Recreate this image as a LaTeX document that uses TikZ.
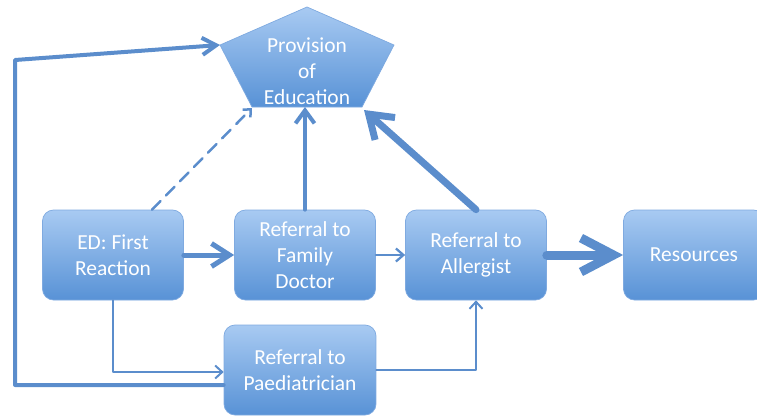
\documentclass[tikz,border=0pt]{standalone}
\usepackage{fontspec}
\setmainfont{Carlito}
\usetikzlibrary{arrows.meta}
\definecolor{boxtop}{HTML}{A8CAF2}
\definecolor{boxbot}{HTML}{5892D6}
\definecolor{boxline}{HTML}{7FAAE0}
\definecolor{linkcol}{HTML}{5B8DCC}
\tikzset{
  boxtext/.style={text=white, align=center, font=\fontsize{12.2}{14.8}\selectfont},
  stepbox/.style={boxtext, rectangle, rounded corners=2.2mm, top color=boxtop, bottom color=boxbot,
    draw=boxline, line width=0.4pt, minimum width=28.2mm, minimum height=18mm},
  link/.style={draw=linkcol, line cap=round, line join=round},
}
\begin{document}
\begin{tikzpicture}[x=0.2mm, y=-0.2mm]
  \useasboundingbox (0,0) rectangle (757,416);
  % pentagon
  \coordinate (p-top) at (307,7);
  \coordinate (p-r)   at (394,45);
  \coordinate (p-br)  at (362,107);
  \coordinate (p-bl)  at (252,107);
  \coordinate (p-l)   at (220,45);
  \shade[top color=boxtop, bottom color=boxbot, draw=boxline]
    (p-top) -- (p-r) -- (p-br) -- (p-bl) -- (p-l) -- cycle;
  \node[boxtext] (edu) at (307,71) {Provision\\of\\Education};

  % boxes
  \node[stepbox] (ed)  at (113,255) {ED: First\\Reaction};
  \node[stepbox] (fd)  at (305,255) {Referral to\\Family\\Doctor};
  \node[stepbox] (al)  at (476,255) {Referral to\\Allergist};
  \node[stepbox] (res) at (694,255) {Resources};
  \node[stepbox, minimum width=30.4mm] (pd)  at (300,370) {Referral to\\Paediatrician};

  % connectors
  \draw[link, line width=1mm, -{Straight Barb[length=3.6mm, width=4.6mm]}] (ed) -- (fd);
  \draw[link, line width=0.45mm, -{Straight Barb[length=1.5mm, width=2.6mm]}] (fd) -- (al);
  \draw[link, line width=1.8mm, -{Straight Barb[length=6.5mm, width=6.8mm]}] (al) -- (res);
  \draw[link, line width=0.8mm, -{Straight Barb[length=2.6mm, width=3.8mm]}] (fd.north) -- (fd.north |- p-bl);
  \draw[link, line width=1.4mm, -{Straight Barb[length=4.4mm, width=6mm]}] (al.north) -- ([shift={(2,3)}]p-br);
  \draw[link, line width=0.5mm, dashed, dash pattern=on 2.4mm off 1.6mm, -{Straight Barb[length=1.2mm, width=2.2mm]}]
    ([xshift=7.8mm]ed.north) -- ([shift={(0,1)}]p-bl);
  \draw[link, line width=0.4mm, -{Straight Barb[length=1.4mm, width=2.6mm]}]
    (ed.south) |- ([yshift=-0.4mm]pd.west);
  \draw[link, line width=0.4mm, -{Straight Barb[length=1.4mm, width=2.6mm]}]
    (pd.east) -| (al.south);
  \draw[link, line width=0.8mm, -{Straight Barb[length=2.8mm, width=3.4mm]}]
    ([yshift=-3mm]pd.west) -| (15,60) -- (p-l);
\end{tikzpicture}
\end{document}
